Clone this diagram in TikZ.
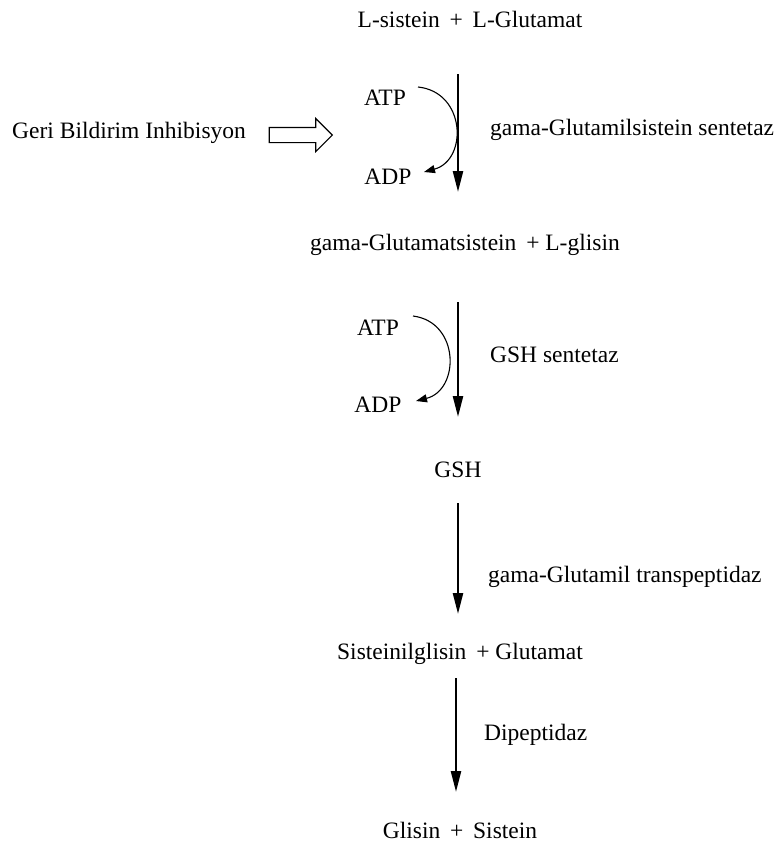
\documentclass[tikz,border=0pt]{standalone}
\usepackage{fontspec}
\setmainfont{Liberation Serif}
\usetikzlibrary{arrows.meta,shapes.arrows}
\begin{document}
\begin{tikzpicture}[x=1pt,y=-1pt,
  lbl/.style={inner sep=0pt,font=\fontsize{23.5}{28}\selectfont},
  main/.style={line width=2.4pt,-{Triangle[width=10pt,length=21pt]}},
  cofac/.style={line width=1.1pt,-{Triangle[width=8pt,length=11pt]}},
  block/.style={single arrow,draw,fill=white,line width=1.1pt,minimum height=63pt,minimum width=32pt,single arrow head extend=9pt,inner xsep=0pt,inner ysep=7pt}]
\useasboundingbox (0,0) rectangle (782,847);
\node[lbl] (s1) at (470,19) {L-sistein \,+\, L-Glutamat};
\node[lbl] (s2) at (465,245) {gama-Glutamatsistein \,+ L-glisin};
\node[lbl] (s3) at (458,470) {GSH};
\node[lbl] (s4) at (460,654) {Sisteinilglisin \,+ Glutamat};
\node[lbl] (s5) at (460,830) {Glisin \,+\, Sistein};
\node[lbl,anchor=west] (e1) at (490,130) {gama-Glutamilsistein sentetaz};
\node[lbl,anchor=west] (e2) at (490,355) {GSH sentetaz};
\node[lbl,anchor=west] (e3) at (488,577) {gama-Glutamil transpeptidaz};
\node[lbl,anchor=west] (e4) at (484,735) {Dipeptidaz};
\node[lbl,anchor=west] (fb) at (12,133) {Geri Bildirim Inhibisyon};
\node[block] (ba) at (297,135) {};
\node[lbl] (atp1) at (385,98) {ATP};
\node[lbl] (adp1) at (388,177) {ADP};
\node[lbl] (atp2) at (378,328) {ATP};
\node[lbl] (adp2) at (378,405) {ADP};
\coordinate (a1s) at (458,74);
\coordinate (a1e) at (458,192);
\coordinate (a2s) at (458,302);
\coordinate (a2e) at (458,417);
\coordinate (a3s) at (458,503);
\coordinate (a3e) at (458,614);
\coordinate (a4s) at (456,678);
\coordinate (a4e) at (456,792);
\coordinate (c1s) at (418,87);
\coordinate (c1e) at (424,172);
\coordinate (c2s) at (413,316);
\coordinate (c2e) at (416,401);
\draw[main] (a1s) -- (a1e);
\draw[main] (a2s) -- (a2e);
\draw[main] (a3s) -- (a3e);
\draw[main] (a4s) -- (a4e);
\draw[cofac] (c1s) .. controls (466,92) and (468,160) .. (c1e);
\draw[cofac] (c2s) .. controls (460,322) and (460,390) .. (c2e);
\end{tikzpicture}
\end{document}
